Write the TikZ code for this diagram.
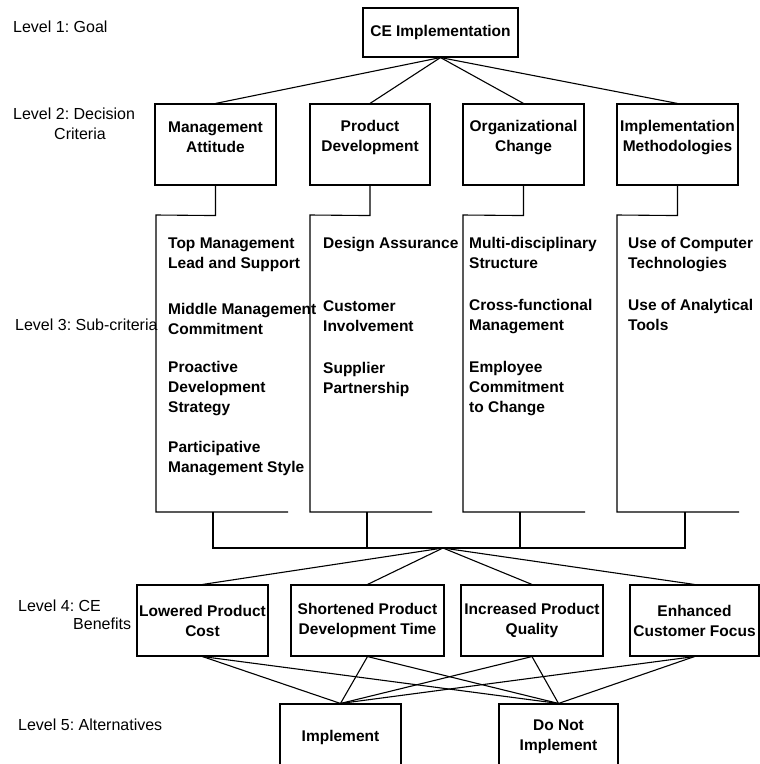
\documentclass[tikz,border=0pt]{standalone}
\usepackage{fontspec}
\setmainfont{Liberation Sans}
\usetikzlibrary{calc}
\frenchspacing
\begin{document}
\begin{tikzpicture}[x=1pt,y=-1pt,
  conn/.style={line width=1.1pt},
  boxfont/.style={font=\bfseries\fontsize{15.5}{20}\selectfont},
  box/.style={draw,line width=1.1pt,inner sep=0pt,boxfont,align=center},
  lvtwo/.style={box,minimum width=121pt,minimum height=81pt},
  lvfour/.style={box,minimum height=71pt},
  lvfive/.style={box,minimum height=66pt},
  boxtext/.style={yshift=7pt,align=center,boxfont,inner sep=0pt},
  sub/.style={anchor=north west,inner sep=0pt,align=left,boxfont},
  lvl/.style={anchor=west,inner sep=0pt,align=left,font=\fontsize{16}{20}\selectfont}]
\fill[white] (0,0) rectangle (760,764);
\clip (0,0) rectangle (760,764);

% level labels
\node[lvl] (lab1) at (13,27) {Level 1: Goal};
\node[lvl,anchor=north west] (lab2) at (13,107.5) {Level 2: Decision\\\hspace*{41pt}Criteria};
\node[lvl] (lab3) at (15,325) {Level 3: Sub-criteria};
\node[lvl,anchor=north west] (lab4) at (18,599.5) {Level 4: CE\\[-2pt]\hspace*{55pt}Benefits};
\node[lvl] (lab5) at (18,725) {Level 5: Alternatives};

% level 1
\node[box,minimum width=155pt,minimum height=49pt] (goal) at (440.5,32.5) {CE Implementation};

% level 2
\node[lvtwo] (c1) at (215.5,144.5) {};
\node[boxtext] (c1t) at (c1) {Management\\Attitude};
\node[lvtwo,minimum width=120pt] (c2) at (370,144.5) {};
\node[boxtext] (c2t) at (c2) {Product\\Development};
\node[lvtwo] (c3) at (523.5,144.5) {};
\node[boxtext] (c3t) at (c3) {Organizational\\Change};
\node[lvtwo] (c4) at (677.5,144.5) {};
\node[boxtext] (c4t) at (c4) {Implementation\\Methodologies};

\foreach \c in {c1,c2,c3,c4} \draw[conn] (goal.south) -- (\c.north);

% level 3 columns
\draw[conn] (c1.south) -- ++(0,30) -- (156,215) -- (156,512) -- (288,512);
\draw[conn] (c2.south) -- ++(0,30) -- (310,215) -- (310,512) -- (432,512);
\draw[conn] (c3.south) -- ++(0,30) -- (463,215) -- (463,512) -- (585,512);
\draw[conn] (c4.south) -- ++(0,30) -- (617,215) -- (617,512) -- (739,512);

\node[sub] (s11) at (168,237.5) {Top Management\\Lead and Support};
\node[sub] (s12) at (168,303) {Middle Management\\Commitment};
\node[sub] (s13) at (168,361.5) {Proactive\\Development\\Strategy};
\node[sub] (s14) at (168,441.5) {Participative\\Management Style};

\node[sub] (s21) at (323,237.5) {Design Assurance};
\node[sub] (s22) at (323,300.5) {Customer\\Involvement};
\node[sub] (s23) at (323,362.5) {Supplier\\Partnership};

\node[sub] (s31) at (469,237.5) {Multi-disciplinary\\Structure};
\node[sub] (s32) at (469,299.5) {Cross-functional\\Management};
\node[sub] (s33) at (469,361.5) {Employee\\Commitment\\to Change};

\node[sub] (s41) at (628,237.5) {Use of Computer\\Technologies};
\node[sub] (s42) at (628,299.5) {Use of Analytical\\Tools};

% bus
\coordinate (d1) at (213,512); \coordinate (e1) at (213,548);
\coordinate (d2) at (367,512); \coordinate (e2) at (367,548);
\coordinate (d3) at (520,512); \coordinate (e3) at (520,548);
\coordinate (d4) at (685,512); \coordinate (e4) at (685,548);
\coordinate (hub) at (443,548);
\draw[conn] (d1) -- (e1) -- (e4) -- (d4);
\draw[conn] (d2) -- (e2);
\draw[conn] (d3) -- (e3);

% level 4
\node[lvfour,minimum width=131pt] (b1) at (202.5,620.5) {Lowered Product\\Cost};
\node[lvfour,minimum width=153pt] (b2) at (367.5,620.5) {Shortened Product\\Development Time};
\node[lvfour,minimum width=142pt] (b3) at (532,620.5) {Increased Product\\Quality};
\node[lvfour,minimum width=129pt] (b4) at (694.5,620.5) {Enhanced\\Customer Focus};

\foreach \b in {b1,b2,b3,b4} \draw[conn] (hub) -- (\b.north);

% level 5
\node[lvfive,minimum width=121pt] (i1) at (340.5,737) {Implement};
\node[lvfive,minimum width=119pt] (i2) at (558.5,737) {Do Not\\Implement};

\foreach \b in {b1,b2,b3,b4} {
  \draw[conn] (\b.south) -- (i1.north);
  \draw[conn] (\b.south) -- (i2.north);
}
\end{tikzpicture}
\end{document}
